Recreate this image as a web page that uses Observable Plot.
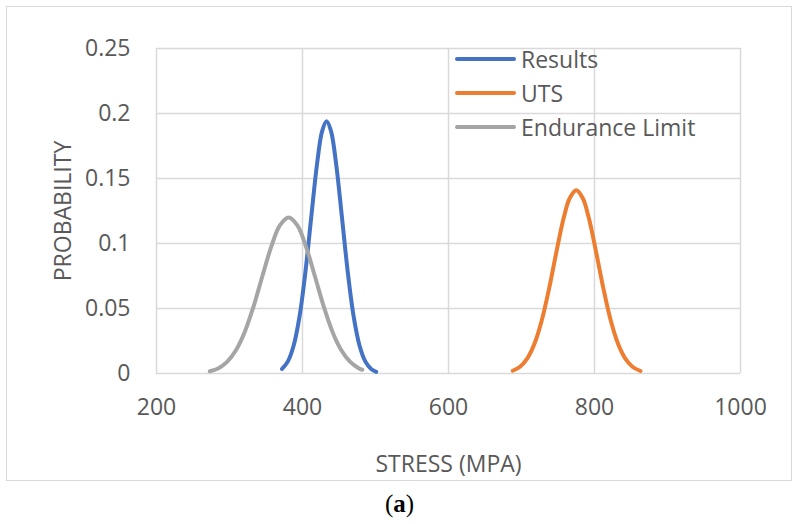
<!DOCTYPE html>
<html>
<head>
<meta charset="utf-8">
<script src="https://cdn.jsdelivr.net/npm/d3@7"></script>
<script src="https://cdn.jsdelivr.net/npm/@observablehq/plot@0.6"></script>
<style>
  html, body { margin: 0; padding: 0; background: #fff; }
  body { width: 799px; height: 524px; position: relative; overflow: hidden; font-family: "Open Sans", sans-serif; }
  #frame { position: absolute; left: 6px; top: 6px; width: 786px; height: 475px; border: 1.5px solid #d9d9d9; box-sizing: border-box; }
  #chart { position: absolute; left: 8px; top: 8px; }
  #legend { position: absolute; left: 455px; top: 42px; color: #595959; font-size: 23px; line-height: 34px; }
  #legend .row { display: flex; align-items: center; height: 34px; }
  #legend .sw { width: 61px; height: 4.5px; border-radius: 3px; margin-right: 5px; }
  #caption { position: absolute; left: 0; width: 799px; top: 490px; text-align: center; font-family: "Liberation Serif", "DejaVu Serif", serif; font-size: 25px; color: #000; }
</style>
</head>
<body>
<div id="frame"></div>
<div id="chart"></div>
<div id="legend"></div>
<div id="caption">(<b>a</b>)</div>
<script>
const seriesNames = ["Results", "UTS", "Endurance Limit"];
const seriesColors = ["#4472c4", "#ed7d31", "#a5a5a5"];

const resultsStress = [372, 380, 388, 396, 404, 412, 420, 427, 433, 439, 446, 454, 462, 470, 478, 486, 494, 501];
const resultsProb   = [0.0035, 0.0093, 0.0217, 0.0441, 0.0781, 0.1204, 0.1616, 0.1866, 0.194, 0.1866, 0.1616, 0.1204, 0.0781, 0.0441, 0.0217, 0.0093, 0.0035, 0.0013];

const utsStress = [688, 698, 708, 718, 728, 738, 748, 758, 766, 775, 784, 792, 802, 812, 822, 832, 842, 852, 863];
const utsProb   = [0.0021, 0.0052, 0.0116, 0.0232, 0.0413, 0.0659, 0.094, 0.1201, 0.1348, 0.141, 0.1348, 0.1201, 0.094, 0.0659, 0.0413, 0.0232, 0.0116, 0.0052, 0.0019];

const enduranceStress = [273, 285, 297, 309, 321, 333, 345, 357, 369, 381, 393, 405, 417, 429, 441, 453, 465, 477, 482];
const enduranceProb   = [0.0017, 0.0041, 0.0091, 0.0181, 0.0322, 0.0517, 0.0748, 0.0972, 0.1139, 0.12, 0.1139, 0.0972, 0.0748, 0.0517, 0.0322, 0.0181, 0.0091, 0.0041, 0.0029];

const xTicks = [200, 400, 600, 800, 1000];
const yTicks = [0, 0.05, 0.1, 0.15, 0.2, 0.25];
const xLabel = "STRESS (MPA)";
const yLabel = "PROBABILITY";

const toRows = (name, xs, ys) => xs.map((x, i) => ({series: name, stress: x, prob: ys[i]}));
const data = [
  ...toRows("Results", resultsStress, resultsProb),
  ...toRows("UTS", utsStress, utsProb),
  ...toRows("Endurance Limit", enduranceStress, enduranceProb)
];

const grid = "#d9d9d9";
const chart = Plot.plot({
  width: 783,
  height: 470,
  marginLeft: 148,
  marginRight: 51,
  marginTop: 40,
  marginBottom: 105,
  style: {fontFamily: "Open Sans, sans-serif", fontSize: "23px", color: "#595959", background: "transparent", overflow: "visible"},
  x: {domain: [200, 1000]},
  y: {domain: [0, 0.25]},
  color: {domain: seriesNames, range: seriesColors},
  marks: [
    Plot.gridX(xTicks, {stroke: grid, strokeOpacity: 1, strokeWidth: 1.5}),
    Plot.gridY(yTicks, {stroke: grid, strokeOpacity: 1, strokeWidth: 1.5}),
    Plot.axisX(xTicks, {tickSize: 0, tickPadding: 25, tickFormat: d => String(d), label: xLabel, labelAnchor: "center", labelArrow: "none", labelOffset: 98}),
    Plot.axisY(yTicks, {tickSize: 0, tickPadding: 26, tickFormat: d => String(d), label: yLabel, labelAnchor: "center", labelArrow: "none", labelOffset: 102}),
    Plot.line(data, {x: "stress", y: "prob", z: "series", stroke: "series", strokeWidth: 4, curve: "catmull-rom", strokeLinecap: "round", strokeLinejoin: "round"})
  ]
});
document.getElementById("chart").appendChild(chart);

const legend = document.getElementById("legend");
seriesNames.forEach((n, i) => {
  const row = document.createElement("div");
  row.className = "row";
  row.innerHTML = `<span class="sw" style="background:${seriesColors[i]}"></span><span>${n}</span>`;
  legend.appendChild(row);
});
</script>
</body>
</html>
